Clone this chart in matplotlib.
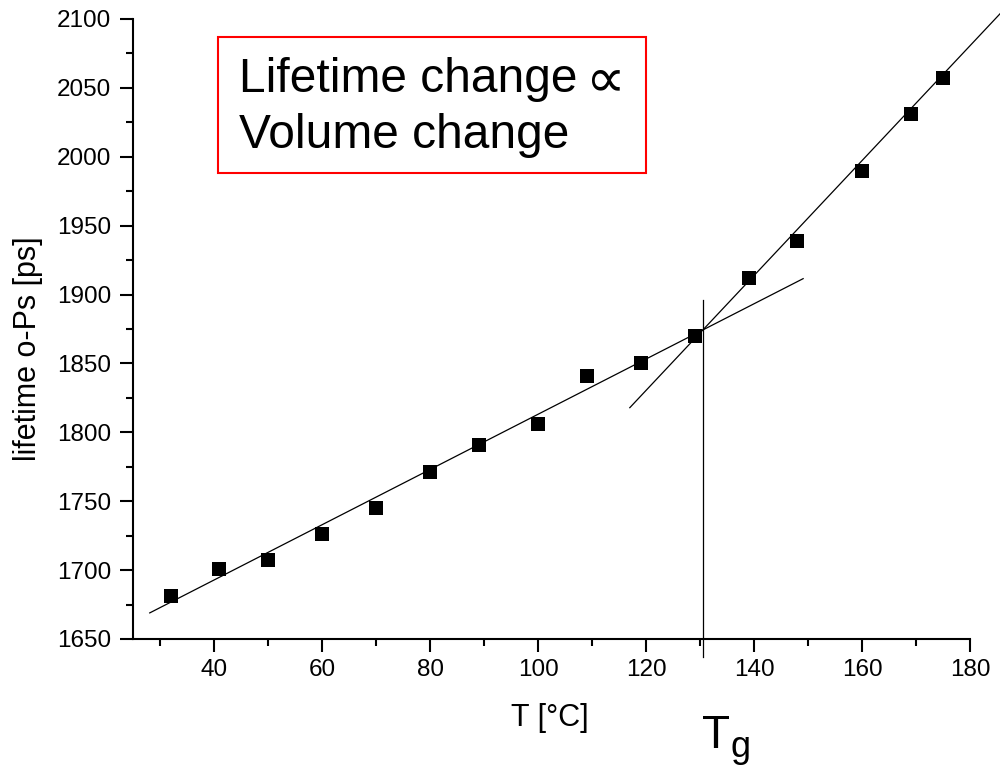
import matplotlib
matplotlib.use("Agg")
import matplotlib.pyplot as plt
import matplotlib.patches as patches
import numpy as np
from matplotlib.ticker import MultipleLocator

# ---- data ----
temperature = [32, 41, 50, 60, 70, 80, 89, 100, 109, 119, 129, 139, 148, 160, 169, 175]
lifetime = [1681, 1701, 1707, 1726, 1745, 1771, 1791, 1806, 1841, 1850, 1870,
            1912, 1939, 1990, 2031, 2057]

# fitted straight lines (slope, intercept) and the T ranges over which they are drawn
glass_fit = [2.005, 1612.6]
glass_range = [28.1, 149.1]
rubber_fit = [4.17, 1330.0]
rubber_range = [117.0, 190.0]

x_ticks = [40, 60, 80, 100, 120, 140, 160, 180]
y_ticks = [1650, 1700, 1750, 1800, 1850, 1900, 1950, 2000, 2050, 2100]

plt.rcParams['font.family'] = ['Liberation Sans', 'DejaVu Sans']

W, H = 1000, 769
fig = plt.figure(figsize=(W / 100, H / 100), dpi=100)
ax = fig.add_axes([133 / W, 1 - 639 / H, (970 - 133) / W, (639 - 19) / H])

ax.set_xlim(25, 180)
ax.set_ylim(1650, 2100)

for s in ['top', 'right']:
    ax.spines[s].set_visible(False)
for s in ['left', 'bottom']:
    ax.spines[s].set_linewidth(1.5)

ax.set_xticks(x_ticks)
ax.set_yticks(y_ticks)
ax.xaxis.set_minor_locator(MultipleLocator(10))
ax.yaxis.set_minor_locator(MultipleLocator(25))
ax.tick_params(which='major', direction='out', length=9.5, width=1.5,
               labelsize=17.5, pad=5)
ax.tick_params(which='minor', direction='out', length=5, width=1.5)
ax.tick_params(axis='y', which='major', pad=6)

# data points
ax.plot(temperature, lifetime, linestyle='none', marker='s', markersize=9.4,
        markeredgewidth=0, color='black', zorder=5, clip_on=False)

# fit lines
for fit, rng in [(glass_fit, glass_range), (rubber_fit, rubber_range)]:
    xs = np.array(rng)
    ax.plot(xs, fit[0] * xs + fit[1], color='black', linewidth=0.9,
            clip_on=False, zorder=3)

# Tg: intersection of the two fits
tg = (glass_fit[1] - rubber_fit[1]) / (rubber_fit[0] - glass_fit[0])
ax.plot([tg, tg], [1637, 1896], color='black', linewidth=0.9, clip_on=False, zorder=3)

# axis labels
fig.text(550 / W, 1 - 718 / H, 'T [°C]', fontsize=22, ha='center', va='center')
fig.text(28 / W, 1 - 349 / H, 'lifetime o-Ps [ps]', fontsize=22, rotation=90,
         ha='center', va='center')

# Tg label
fig.text(702 / W, 1 - 748 / H, 'T', fontsize=33, ha='left', va='baseline')
fig.text(730 / W, 1 - 757 / H, 'g', fontsize=26, ha='left', va='baseline')

# red box with text
rect = patches.Rectangle((218 / W, 1 - 173 / H), (646 - 218) / W, (173 - 37) / H,
                         transform=fig.transFigure, fill=False, edgecolor='#ff0000',
                         linewidth=1.5)
fig.patches.append(rect)
fig.text(239 / W, 1 - 92 / H, 'Lifetime change', fontsize=34.5, ha='left', va='baseline')
fig.text(605 / W, 1 - 81.5 / H, '∝', fontsize=40, ha='center', va='center',
         family=['DejaVu Sans'])
fig.text(239 / W, 1 - 148 / H, 'Volume change', fontsize=34.5, ha='left', va='baseline')

fig.savefig('out.png', dpi=100)
